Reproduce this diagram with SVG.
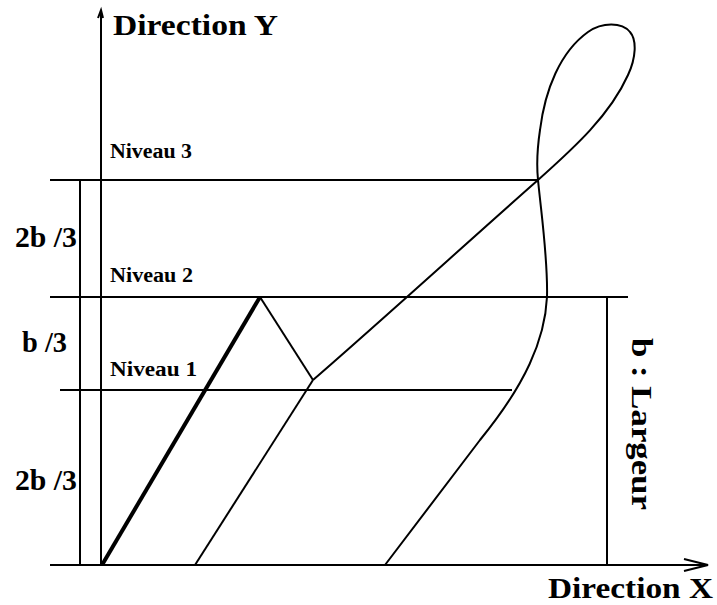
<svg xmlns="http://www.w3.org/2000/svg" width="717" height="605" viewBox="0 0 717 605">
<style>
.ln{stroke:#000;stroke-width:2;fill:none}
.thk{stroke:#000;stroke-width:4;fill:none}
.t{font-family:"Liberation Serif","Times New Roman",serif;font-weight:bold;fill:#000}
</style>
<rect width="717" height="605" fill="#fff"/>
<g id="axes">
<line class="ln" x1="101" y1="10" x2="101" y2="565"/>
<path class="ln" d="M98,18 L101,10 L103,18"/>
<line class="ln" x1="50" y1="565" x2="706" y2="565"/>
<path class="ln" d="M684,559 L708,565 L684,571"/>
</g>
<g id="levels">
<line class="ln" x1="50" y1="180" x2="538" y2="180"/>
<line class="ln" x1="50" y1="297" x2="628" y2="297"/>
<line class="ln" x1="60" y1="390" x2="512" y2="390"/>
<line class="ln" x1="80" y1="180" x2="80" y2="565"/>
<line class="ln" x1="607" y1="297" x2="607" y2="565"/>
</g>
<g id="connectors">
<line class="thk" x1="102" y1="565" x2="260" y2="297"/>
<line class="ln" x1="260" y1="297" x2="313" y2="380"/>
<line class="ln" x1="313" y1="380" x2="195" y2="565"/>
<path class="ln" d="M313,380 C380,322 470,240 538,180 C575,147 610,115 628,75 C636,58 637,40 630,32 C622,22 602,22 588,32 C560,52 545,90 540,130 C537,150 537,170 538,180 C542,220 548,260 547,297 C545,340 525,385 480,440 L385,565"/>
</g>
<g id="labels">
<text class="t" x="113" y="35" font-size="30" textLength="165" lengthAdjust="spacingAndGlyphs">Direction Y</text>
<text class="t" x="548" y="598" font-size="30" textLength="165" lengthAdjust="spacingAndGlyphs">Direction X</text>
<text class="t" x="110" y="158" font-size="20" textLength="82" lengthAdjust="spacingAndGlyphs">Niveau 3</text>
<text class="t" x="110" y="282" font-size="20" textLength="83" lengthAdjust="spacingAndGlyphs">Niveau 2</text>
<text class="t" x="110" y="376" font-size="20" textLength="87" lengthAdjust="spacingAndGlyphs">Niveau 1</text>
<text class="t" x="15" y="247" font-size="30" textLength="62" lengthAdjust="spacingAndGlyphs">2b /3</text>
<text class="t" x="22" y="352" font-size="30" textLength="45" lengthAdjust="spacingAndGlyphs">b /3</text>
<text class="t" x="15" y="490" font-size="30" textLength="62" lengthAdjust="spacingAndGlyphs">2b /3</text>
<text class="t" font-size="30" textLength="172" lengthAdjust="spacingAndGlyphs" transform="translate(632,338) rotate(90)">b : Largeur</text>
</g>
</svg>
